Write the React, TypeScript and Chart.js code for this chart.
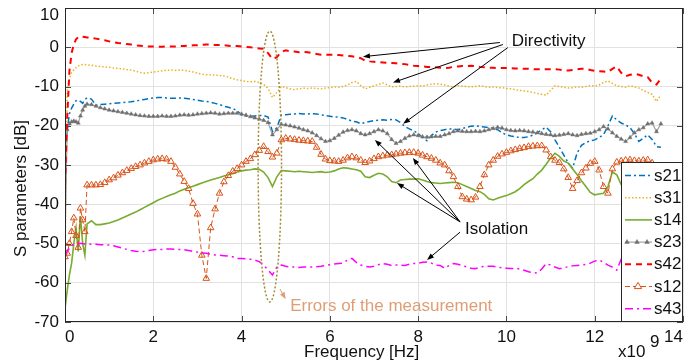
import { useEffect, useRef } from 'react';
import { Chart, registerables } from 'chart.js';

Chart.register(...registerables);

const FONT = "'Liberation Sans', Arial, Helvetica, sans-serif";

// Frequency grid in GHz (axis is labelled in Hz with a x10^9 multiplier)
const FREQ_START = [0, 0.05, 0.1, 0.15, 0.2, 0.25, 0.3, 0.35, 0.4, 0.45, 0.5];
const FREQ: number[] = [...FREQ_START];
for (let k = 6; k <= 135; k++) FREQ.push(k / 10);

const X_TICKS = [0, 2, 4, 6, 8, 10, 12, 14];
const Y_TICKS = [10, 0, -10, -20, -30, -40, -50, -60, -70];

const S21 = [
  -30, -21, -17, -15.5, -14.5, -13.6, -13.5, -13.8, -14.3, -13.3, -12.9,
  -13.2, -14.8, -14.6, -14.5, -14.4, -14.3, -14.2, -14.1, -14.0, -13.9,
  -13.7, -13.5, -13.3, -13.1, -12.9, -12.8, -12.8, -12.9, -13.0, -13.0,
  -12.9, -13.0, -13.1, -13.3, -13.5, -13.7, -13.8, -14.0, -14.3, -14.6,
  -15.0, -15.3, -15.6, -16.2, -17.2, -17.5, -17.6, -17.5, -17.4, -17.4,
  -17.8, -21.5, -20.5, -17.3, -17.2, -17.1, -17.0, -16.9, -17.0, -17.0,
  -16.9, -17.0, -17.2, -17.4, -17.6, -17.8, -17.8, -18.0, -18.4, -18.8,
  -19.0, -19.5, -19.2, -18.9, -18.7, -18.6, -18.5, -18.6, -18.4, -18.5,
  -19.2, -20.2, -20.8, -21.3, -22.0, -23.0, -23.8, -22.5, -21.6, -21.2,
  -21.0, -20.8, -20.9, -21.0, -20.7, -20.4, -20.1, -20.0, -20.2, -20.3,
  -20.5, -20.6, -21.0, -21.8, -22.3, -22.6, -22.8, -23.0, -23.0, -22.8,
  -22.4, -21.8, -21.0, -20.4, -21.5, -23.6, -25.5, -27.5, -29.5, -30.8,
  -27.0, -25.0, -24.3, -23.8, -23.6, -23.0, -22.3, -20.0, -17.5, -18.5,
  -19.3, -19.8, -20.5, -22.0, -24.0, -23.2, -22.3, -23.5, -25.3, -25.5,
];

const S31 = [
  -53, -11, -8, -6.5, -5.7, -5.2, -4.8, -4.5, -4.4, -4.4, -4.5,
  -4.6, -4.8, -4.9, -5.0, -5.1, -5.3, -5.4, -5.5, -5.7, -5.8,
  -6.1, -6.4, -6.6, -6.5, -6.3, -6.2, -6.0, -5.9, -5.8, -5.9,
  -5.8, -5.9, -6.1, -6.3, -6.6, -6.9, -7.0, -7.0, -7.1, -7.2,
  -7.3, -7.6, -8.0, -8.3, -8.5, -8.7, -8.8, -8.7, -9.0, -9.4,
  -10.5, -12.8, -11.5, -10.0, -10.3, -10.6, -10.8, -10.6, -10.4, -10.5,
  -10.4, -10.5, -10.6, -10.4, -10.3, -10.1, -10.2, -10.0, -9.6, -9.0,
  -8.7, -9.8, -10.6, -10.2, -9.8, -9.5, -9.1, -9.6, -10.1, -10.0,
  -9.9, -10.1, -10.0, -9.9, -9.8, -9.9, -9.6, -9.4, -9.3, -9.4,
  -9.6, -9.9, -10.1, -9.8, -9.9, -10.0, -10.1, -10.0, -9.8, -10.0,
  -10.2, -10.1, -10.3, -10.3, -10.5, -10.6, -10.8, -11.0, -11.1, -11.3,
  -11.5, -11.8, -12.0, -12.2, -11.0, -9.8, -10.0, -10.2, -10.4, -10.3,
  -10.1, -10.2, -10.0, -9.8, -9.9, -9.6, -9.0, -8.6, -9.2, -9.8,
  -10.0, -10.2, -9.8, -10.1, -10.4, -11.0, -11.5, -12.0, -13.8, -12.1,
];

const S14 = [
  -66.6, -62, -58, -55, -50, -46, -52, -43, -50, -53, -45,
  -44.2, -45.2, -45.2, -45.0, -44.8, -44.4, -44.0, -43.5, -43.0, -42.5,
  -42.0, -41.4, -40.8, -40.2, -39.6, -39.0, -38.5, -38.0, -37.6, -37.2,
  -36.6, -36.2, -35.8, -35.4, -35.0, -34.6, -34.2, -33.8, -33.5, -33.2,
  -32.8, -32.5, -32.2, -31.8, -31.5, -31.3, -31.2, -31.0, -31.1, -31.8,
  -33.2, -35.5, -33.0, -31.4, -31.5, -31.6, -31.7, -31.6, -31.7, -31.8,
  -31.9, -31.8, -31.7, -31.9, -31.8, -31.5, -31.0, -30.7, -30.8, -31.0,
  -31.2, -31.6, -33.0, -33.2, -32.6, -32.1, -32.3, -33.0, -34.2, -34.5,
  -33.8, -33.7, -33.6, -33.6, -33.5, -33.8, -34.2, -34.5, -34.6, -34.7,
  -34.6, -34.5, -34.4, -34.5, -35.0, -35.5, -36.0, -36.5, -36.8, -37.5,
  -38.6, -38.9, -38.5, -38.1, -37.8, -37.3, -36.8, -36.0, -35.0, -34.2,
  -33.5, -32.3, -31.3, -29.8, -28.2, -27.0, -27.8, -29.0, -29.5, -31.0,
  -32.4, -34.0, -35.5, -37.0, -37.6, -37.4, -37.2, -35.5, -31.8, -32.5,
  -35.0, -36.5, -37.5, -37.0, -36.0, -35.0, -34.5, -34.0, -33.5, -33.0,
];

const S23 = [
  -50, -21, -19.5, -19, -18.8, -19.0, -19.3, -17.5, -16.0, -15.0, -14.5,
  -14.6, -15.0, -15.4, -15.7, -16.0, -16.2, -16.4, -16.6, -16.8, -17.0,
  -17.2, -17.4, -17.5, -17.6, -17.6, -17.6, -17.5, -17.6, -17.6, -17.5,
  -17.3, -17.2, -17.3, -17.2, -17.0, -16.9, -16.8, -16.7, -16.8, -17.0,
  -16.9, -16.8, -16.8, -16.8, -17.0, -17.3, -17.7, -18.0, -18.3, -18.6,
  -19.2, -22.3, -21.0, -19.6, -19.8, -20.0, -20.3, -20.6, -21.0, -21.3,
  -21.8, -22.5, -23.3, -24.0, -23.8, -23.2, -22.4, -21.6, -21.2, -21.0,
  -21.3, -22.0, -22.3, -22.0, -21.5, -21.0, -21.3, -22.0, -23.5, -24.5,
  -24.0, -23.2, -22.6, -22.3, -22.5, -22.8, -22.9, -22.8, -22.7, -22.7,
  -22.3, -22.0, -21.5, -21.3, -21.4, -21.5, -21.5, -21.4, -21.5, -21.3,
  -21.0, -20.7, -20.4, -20.6, -21.0, -21.2, -21.3, -21.2, -21.3, -21.5,
  -21.6, -21.8, -22.0, -22.2, -22.3, -22.5, -22.4, -22.2, -22.0, -22.3,
  -22.5, -22.2, -22.0, -21.9, -21.5, -21.0, -20.2, -20.8, -21.8, -22.7,
  -23.4, -24.0, -23.0, -21.8, -21.0, -20.5, -19.5, -19.3, -21.5, -19.5,
];

const S42 = [
  -35, -18, -6, -1.5, 0.8, 2.0, 2.6, 2.8, 2.7, 2.6, 2.5,
  2.4, 2.2, 2.0, 1.8, 1.5, 1.3, 1.1, 1.0, 0.8, 0.7,
  0.5, 0.4, 0.3, 0.2, 0.2, 0.1, 0.1, 0.2, 0.2, 0.2,
  0.3, 0.3, 0.4, 0.5, 0.5, 0.6, 0.7, 0.7, 0.6, 0.6,
  0.5, 0.4, 0.3, 0.3, 0.2, 0.1, 0.0, -0.2, -0.3, -0.4,
  -1.5, -3.0, -2.5, -1.2, -0.8, -1.0, -1.1, -1.3, -1.2, -1.3,
  -1.5, -1.7, -1.9, -1.9, -1.9, -1.9, -2.0, -2.1, -2.2, -2.3,
  -2.5, -2.8, -3.4, -3.6, -3.7, -3.8, -3.9, -4.0, -4.0, -4.1,
  -4.2, -4.3, -4.5, -4.7, -4.8, -4.9, -5.0, -5.0, -5.1, -5.2,
  -5.3, -5.2, -5.0, -4.9, -4.8, -4.8, -4.7, -4.8, -5.0, -5.1,
  -5.2, -5.2, -5.3, -5.3, -5.3, -5.3, -5.4, -5.4, -5.5, -5.5,
  -5.6, -5.6, -5.6, -5.6, -5.6, -5.6, -5.7, -5.9, -5.9, -5.8,
  -5.6, -5.5, -5.5, -5.8, -6.0, -6.1, -6.2, -6.3, -5.5, -4.9,
  -6.5, -7.4, -7.0, -6.8, -7.0, -7.4, -7.6, -9.0, -9.5, -8.0,
];

const S12 = [
  -53.4, -52.5, -50.0, -47.0, -43.5, -48.0, -51.0, -41.0, -44.0, -47.0, -35.1,
  -35.1, -35.1, -35.0, -34.5, -33.8, -33.3, -32.6, -32.0, -31.4, -30.9,
  -30.4, -30.0, -29.5, -29.1, -28.7, -28.5, -28.4, -28.5, -29.1, -30.6,
  -32.3, -34.2, -36.0, -39.8, -42.5, -53.0, -58.9, -46.0, -41.2, -37.2,
  -34.3, -32.7, -31.6, -30.9, -30.0, -29.1, -28.4, -27.4, -26.3, -25.3,
  -26.6, -28.0, -27.0, -23.6, -23.2, -23.4, -23.5, -23.7, -23.8, -23.9,
  -24.0, -25.5, -27.3, -28.5, -28.9, -29.0, -29.1, -28.8, -28.2, -27.9,
  -28.2, -28.8, -29.4, -29.0, -28.4, -27.9, -27.7, -27.5, -27.4, -27.2,
  -27.0, -26.9, -26.8, -26.8, -27.0, -27.5, -27.9, -28.3, -28.8, -29.5,
  -30.0, -31.5, -33.0, -35.5, -38.1, -38.7, -38.9, -38.2, -35.5, -32.5,
  -30.0, -28.8, -27.8, -27.2, -26.8, -26.4, -26.1, -25.8, -25.6, -25.3,
  -25.2, -25.1, -25.1, -26.2, -27.9, -28.8, -29.4, -31.0, -33.2, -36.0,
  -34.0, -32.0, -30.8, -29.6, -29.1, -31.3, -35.5, -37.2, -31.0, -29.3,
  -29.0, -28.8, -28.7, -28.9, -29.0, -28.8, -28.7, -29.5, -30.5, -31.0,
];

const S43 = [
  -53.0, -52.0, -51.2, -50.6, -50.2, -50.0, -50.0, -50.0, -50.0, -50.1, -50.1,
  -50.2, -50.2, -50.3, -50.3, -50.4, -50.6, -50.9, -51.2, -51.5, -51.8,
  -52.0, -52.1, -52.0, -51.8, -51.6, -51.5, -51.5, -51.4, -51.4, -51.5,
  -51.5, -51.6, -51.8, -52.0, -52.2, -52.4, -52.5, -52.7, -52.9, -53.0,
  -53.1, -53.2, -53.4, -53.8, -53.8, -53.9, -54.0, -54.2, -54.6, -55.5,
  -56.8, -58.0, -56.0, -55.5, -55.8, -56.0, -56.0, -56.1, -56.0, -56.0,
  -56.0, -55.9, -55.8, -55.6, -55.4, -55.2, -55.1, -55.0, -54.2, -53.8,
  -54.8, -55.5, -55.8, -56.0, -55.8, -55.4, -55.1, -55.3, -55.6, -55.5,
  -55.5, -55.6, -55.3, -55.1, -55.0, -54.8, -54.7, -55.0, -55.5, -55.6,
  -56.3, -55.6, -55.1, -55.3, -55.6, -56.0, -56.3, -56.4, -56.0, -55.8,
  -55.8, -55.8, -56.0, -56.2, -56.3, -56.4, -56.3, -56.5, -56.8, -57.2,
  -57.4, -57.5, -56.5, -55.1, -55.5, -56.0, -56.4, -56.2, -55.9, -55.7,
  -55.6, -55.5, -55.3, -55.0, -54.5, -54.2, -54.8, -55.5, -56.0, -56.8,
  -54.0, -56.0, -56.5, -56.0, -55.8, -56.2, -56.4, -56.0, -56.5, -56.3,
];

const SERIES_NAMES = ['s21', 's31', 's14', 's23', 's42', 's12', 's43'];
const SERIES_VALUES = [S21, S31, S14, S23, S42, S12, S43];

// Annotations, in data units (GHz, dB)
const DIRECTIVITY_LABEL = { x: 10.12, y: 1.4, text: 'Directivity' };
const DIRECTIVITY_ARROWS = [
  [9.85, 1.2, 6.75, -2.4],
  [9.92, 0.7, 7.43, -9.0],
  [10.03, -0.1, 7.66, -19.5],
];
const ISOLATION_LABEL = { x: 9.06, y: -46.4, text: 'Isolation' };
const ISOLATION_ARROWS = [
  [8.95, -44.5, 7.02, -23.6],
  [8.95, -44.5, 7.88, -28.2],
  [8.95, -44.5, 7.52, -34.6],
  [8.95, -47.1, 8.2, -54.2],
];
const ERROR_ELLIPSE = { cx: 4.64, cy: -30.4, rx: 0.265, ry: 34.5 };
const ERROR_LABEL = { x: 5.1, y: -65.9, text: 'Errors of the measurement' };
const ERROR_ARROW = [4.87, -61.6, 5.0, -64.2];

type Style = {
  color: string; width: number; dash: number[];
  point?: { radius: number; fill: string; stroke: string; bw: number };
};
const STYLES: Style[] = [
  { color: '#0072BD', width: 1.5, dash: [6, 3, 2, 3] },
  { color: '#EDB120', width: 1.5, dash: [1.5, 2] },
  { color: '#77AC30', width: 1.6, dash: [] },
  { color: '#a3a3a3', width: 1.2, dash: [], point: { radius: 2.3, fill: '#6f6f6f', stroke: '#6f6f6f', bw: 0.5 } },
  { color: '#FF0000', width: 2, dash: [6, 5] },
  { color: '#D95319', width: 1, dash: [5, 3], point: { radius: 3.8, fill: 'rgba(255,255,255,0)', stroke: '#D95319', bw: 1 } },
  { color: '#FF00FF', width: 1.5, dash: [8, 4, 2, 4] },
];

function drawTriangle(ctx: CanvasRenderingContext2D, x: number, y: number, r: number, fill: string, stroke: string, bw: number) {
  ctx.save();
  ctx.setLineDash([]);
  ctx.beginPath();
  ctx.moveTo(x, y - r);
  ctx.lineTo(x + r * Math.cos(Math.PI / 6), y + r * 0.5);
  ctx.lineTo(x - r * Math.cos(Math.PI / 6), y + r * 0.5);
  ctx.closePath();
  ctx.fillStyle = fill;
  ctx.fill();
  ctx.lineWidth = bw;
  ctx.strokeStyle = stroke;
  ctx.stroke();
  ctx.restore();
}

function drawArrow(ctx: CanvasRenderingContext2D, x1: number, y1: number, x2: number, y2: number, color: string) {
  const ang = Math.atan2(y2 - y1, x2 - x1);
  const L = 7, W = 2.6;
  const c = Math.cos(ang), s = Math.sin(ang);
  ctx.save();
  ctx.setLineDash([]);
  ctx.strokeStyle = color;
  ctx.fillStyle = color;
  ctx.lineWidth = 1;
  ctx.beginPath();
  ctx.moveTo(x1, y1);
  ctx.lineTo(x2 - L * 0.7 * c, y2 - L * 0.7 * s);
  ctx.stroke();
  ctx.beginPath();
  ctx.moveTo(x2, y2);
  ctx.lineTo(x2 - L * c + W * s, y2 - L * s - W * c);
  ctx.lineTo(x2 - L * c - W * s, y2 - L * s + W * c);
  ctx.closePath();
  ctx.fill();
  ctx.restore();
}

const overlayPlugin = {
  id: 'overlay',
  afterDraw(chart: any) {
    const { ctx, chartArea: a, scales } = chart;
    const X = (v: number) => scales.x.getPixelForValue(v);
    const Y = (v: number) => scales.y.getPixelForValue(v);
    ctx.save();

    // inward ticks
    ctx.strokeStyle = '#4a4a4a';
    ctx.lineWidth = 1;
    ctx.setLineDash([]);
    ctx.beginPath();
    for (const t of X_TICKS) {
      const p = Math.round(X(t)) + 0.5;
      ctx.moveTo(p, a.bottom); ctx.lineTo(p, a.bottom - 6);
      ctx.moveTo(p, a.top); ctx.lineTo(p, a.top + 6);
    }
    for (const t of Y_TICKS) {
      const p = Math.round(Y(t)) + 0.5;
      ctx.moveTo(a.left, p); ctx.lineTo(a.left + 6, p);
      ctx.moveTo(a.right, p); ctx.lineTo(a.right - 6, p);
    }
    ctx.stroke();

    // axes box
    ctx.strokeStyle = '#262626';
    ctx.strokeRect(Math.round(a.left) + 0.5, Math.round(a.top) + 0.5, Math.round(a.right - a.left) - 1, Math.round(a.bottom - a.top) - 1);

    // error ellipse
    ctx.save();
    ctx.beginPath();
    ctx.setLineDash([2, 2]);
    ctx.strokeStyle = '#a48a36';
    ctx.lineWidth = 1.5;
    const ecx = X(ERROR_ELLIPSE.cx), ecy = Y(ERROR_ELLIPSE.cy);
    ctx.ellipse(ecx, ecy, Math.abs(X(ERROR_ELLIPSE.cx + ERROR_ELLIPSE.rx) - ecx), Math.abs(Y(ERROR_ELLIPSE.cy + ERROR_ELLIPSE.ry) - ecy), 0, 0, Math.PI * 2);
    ctx.stroke();
    ctx.restore();

    // arrows
    for (const [x1, y1, x2, y2] of DIRECTIVITY_ARROWS) drawArrow(ctx, X(x1), Y(y1), X(x2), Y(y2), '#000');
    for (const [x1, y1, x2, y2] of ISOLATION_ARROWS) drawArrow(ctx, X(x1), Y(y1), X(x2), Y(y2), '#000');
    drawArrow(ctx, X(ERROR_ARROW[0]), Y(ERROR_ARROW[1]), X(ERROR_ARROW[2]), Y(ERROR_ARROW[3]), '#df9d75');

    // annotation text
    ctx.font = `17px ${FONT}`;
    ctx.textBaseline = 'middle';
    ctx.textAlign = 'left';
    ctx.fillStyle = '#111';
    ctx.fillText(DIRECTIVITY_LABEL.text, X(DIRECTIVITY_LABEL.x), Y(DIRECTIVITY_LABEL.y));
    ctx.fillText(ISOLATION_LABEL.text, X(ISOLATION_LABEL.x), Y(ISOLATION_LABEL.y));
    ctx.fillStyle = '#df9d75';
    ctx.fillText(ERROR_LABEL.text, X(ERROR_LABEL.x), Y(ERROR_LABEL.y));

    // legend
    const lw = 62, lh = 160;
    const lx = Math.round(a.right) - lw, ly = Math.round(a.bottom) - lh;
    ctx.fillStyle = '#fff';
    ctx.fillRect(lx, ly, lw, lh);
    ctx.strokeStyle = '#262626';
    ctx.lineWidth = 1;
    ctx.setLineDash([]);
    ctx.strokeRect(lx + 0.5, ly + 0.5, lw - 1, lh - 1);
    SERIES_NAMES.forEach((name, i) => {
      const st = STYLES[i];
      const yy = ly + 13.5 + i * 22.2;
      ctx.save();
      ctx.strokeStyle = st.color;
      ctx.lineWidth = st.width;
      ctx.setLineDash(st.dash);
      ctx.beginPath();
      ctx.moveTo(lx + 4, yy);
      ctx.lineTo(lx + 31, yy);
      ctx.stroke();
      ctx.restore();
      if (st.point) {
        const xsM = name === 's23' ? [lx + 6, lx + 16, lx + 26] : [lx + 17];
        const r = name === 's23' ? 2.6 : 4.2;
        for (const mx of xsM) drawTriangle(ctx, mx, yy, r, name === 's23' ? st.point.fill : '#fff', st.point.stroke, st.point.bw);
      }
      ctx.fillStyle = '#111';
      ctx.font = `17px ${FONT}`;
      ctx.textAlign = 'left';
      ctx.textBaseline = 'middle';
      ctx.fillText(name, lx + 33, yy + 0.5);
    });

    // axis titles and multiplier
    ctx.fillStyle = '#111';
    ctx.font = `17px ${FONT}`;
    ctx.textAlign = 'center';
    ctx.textBaseline = 'middle';
    ctx.fillText('Frequency [Hz]', 361.7, 352);
    ctx.save();
    ctx.translate(21, 188.5);
    ctx.rotate(-Math.PI / 2);
    ctx.fillText('S parameters [dB]', 0, 0);
    ctx.restore();
    ctx.textAlign = 'left';
    ctx.fillText('x10', 618, 352);
    ctx.fillText('9', 650, 342);

    ctx.restore();
  },
};

export default function App() {
  const ref = useRef<HTMLCanvasElement>(null);
  useEffect(() => {
    const datasets = SERIES_NAMES.map((name, i) => {
      const st = STYLES[i];
      const vals = SERIES_VALUES[i];
      return {
        label: name,
        data: FREQ.map((f, k) => ({ x: f, y: vals[k] })),
        borderColor: st.color,
        backgroundColor: st.color,
        borderWidth: st.width,
        borderDash: st.dash,
        fill: false,
        tension: 0,
        order: 7 - i,
        pointStyle: 'triangle',
        pointRadius: st.point ? st.point.radius : 0,
        pointBackgroundColor: st.point ? st.point.fill : st.color,
        pointBorderColor: st.point ? st.point.stroke : st.color,
        pointBorderWidth: st.point ? st.point.bw : 0,
        pointHoverRadius: 0,
      };
    });
    const chart = new Chart(ref.current as HTMLCanvasElement, {
      type: 'line',
      data: { datasets },
      options: {
        responsive: false,
        animation: false,
        events: [],
        layout: { padding: { left: 0, right: 12, top: 8, bottom: 0 } },
        plugins: { legend: { display: false }, tooltip: { enabled: false } },
        scales: {
          x: {
            type: 'linear',
            min: 0,
            max: 14,
            afterFit: (s: any) => { s.height = 41; s.paddingLeft = 0; s.paddingRight = 0; s.paddingTop = 0; s.paddingBottom = 0; },
            border: { display: false },
            grid: { color: '#e2e2e2', drawTicks: false, lineWidth: 1 },
            ticks: {
              stepSize: 2,
              align: 'inner',
              padding: 5,
              color: '#111',
              font: { family: FONT, size: 17 },
              maxRotation: 0,
            },
          },
          y: {
            type: 'linear',
            min: -70,
            max: 10,
            afterFit: (s: any) => { s.width = 65; s.paddingTop = 0; s.paddingBottom = 0; s.paddingLeft = 0; s.paddingRight = 0; },
            border: { display: false },
            grid: { color: '#e2e2e2', drawTicks: false, lineWidth: 1 },
            ticks: {
              stepSize: 10,
              padding: 6,
              color: '#111',
              font: (c: any) => ({ family: FONT, size: 17, lineHeight: c.tick && c.tick.value === 10 ? '14px' : 1.2 }),
              callback: (v: any) => (v === 10 ? ['', '10'] : String(v)),
            },
          },
        },
      },
      plugins: [overlayPlugin],
    } as any);
    return () => chart.destroy();
  }, []);
  return (
    <div style={{ position: 'absolute', left: 0, top: 0, width: 695, height: 363, background: '#fff' }}>
      <canvas ref={ref} width={695} height={363} style={{ width: 695, height: 363, display: 'block' }} />
    </div>
  );
}
